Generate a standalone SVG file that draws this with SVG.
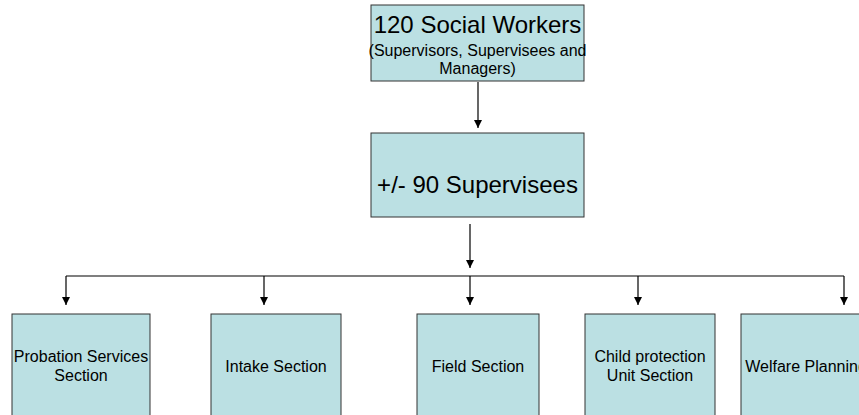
<svg xmlns="http://www.w3.org/2000/svg" width="859" height="415" viewBox="0 0 859 415">
<style>
.box{fill:#BBE0E3;stroke:#333333;stroke-width:1}
.t{font-family:"Liberation Sans",Arial,sans-serif;fill:#000;text-anchor:middle}
.c{stroke:#000;stroke-width:1.2;fill:none}
</style>
<defs>
<marker id="ah" markerWidth="10" markerHeight="10" refX="8" refY="4" orient="auto" markerUnits="userSpaceOnUse">
<path d="M0,0 L8,4 L0,8 Z" fill="#000"/>
</marker>
</defs>
<rect width="859" height="415" fill="#fff"/>
<g id="connectors">
<line class="c" x1="478" y1="82" x2="478" y2="128" marker-end="url(#ah)"/>
<line class="c" x1="470" y1="224" x2="470" y2="268" marker-end="url(#ah)"/>
<line class="c" x1="66" y1="276" x2="844" y2="276"/>
<line class="c" x1="66" y1="276" x2="66" y2="305" marker-end="url(#ah)"/>
<line class="c" x1="264" y1="276" x2="264" y2="305" marker-end="url(#ah)"/>
<line class="c" x1="470" y1="276" x2="470" y2="305" marker-end="url(#ah)"/>
<line class="c" x1="638" y1="276" x2="638" y2="305" marker-end="url(#ah)"/>
<line class="c" x1="844" y1="276" x2="844" y2="305" marker-end="url(#ah)"/>
</g>
<g id="n-social-workers">
<rect class="box" x="371" y="5" width="213" height="76"/>
<text class="t" x="477.5" y="33" font-size="24">120 Social Workers</text>
<text class="t" x="477.5" y="56" font-size="16">(Supervisors, Supervisees and</text>
<text class="t" x="477.5" y="74" font-size="16">Managers)</text>
</g>
<g id="n-supervisees">
<rect class="box" x="371" y="133" width="213" height="84"/>
<text class="t" x="477.5" y="193" font-size="24">+/- 90 Supervisees</text>
</g>
<g id="n-probation">
<rect class="box" x="12" y="314" width="138" height="110"/>
<text class="t" x="81" y="362" font-size="16">Probation Services</text>
<text class="t" x="81" y="381" font-size="16">Section</text>
</g>
<g id="n-intake">
<rect class="box" x="211" y="314" width="130" height="110"/>
<text class="t" x="276" y="372" font-size="16">Intake Section</text>
</g>
<g id="n-field">
<rect class="box" x="417" y="314" width="122" height="110"/>
<text class="t" x="478" y="372" font-size="16">Field Section</text>
</g>
<g id="n-child">
<rect class="box" x="585" y="314" width="130" height="110"/>
<text class="t" x="650" y="362" font-size="16">Child protection</text>
<text class="t" x="650" y="381" font-size="16">Unit Section</text>
</g>
<g id="n-welfare">
<rect class="box" x="741" y="314" width="130" height="110"/>
<text class="t" x="806" y="372" font-size="16">Welfare Planning</text>
</g>
</svg>
